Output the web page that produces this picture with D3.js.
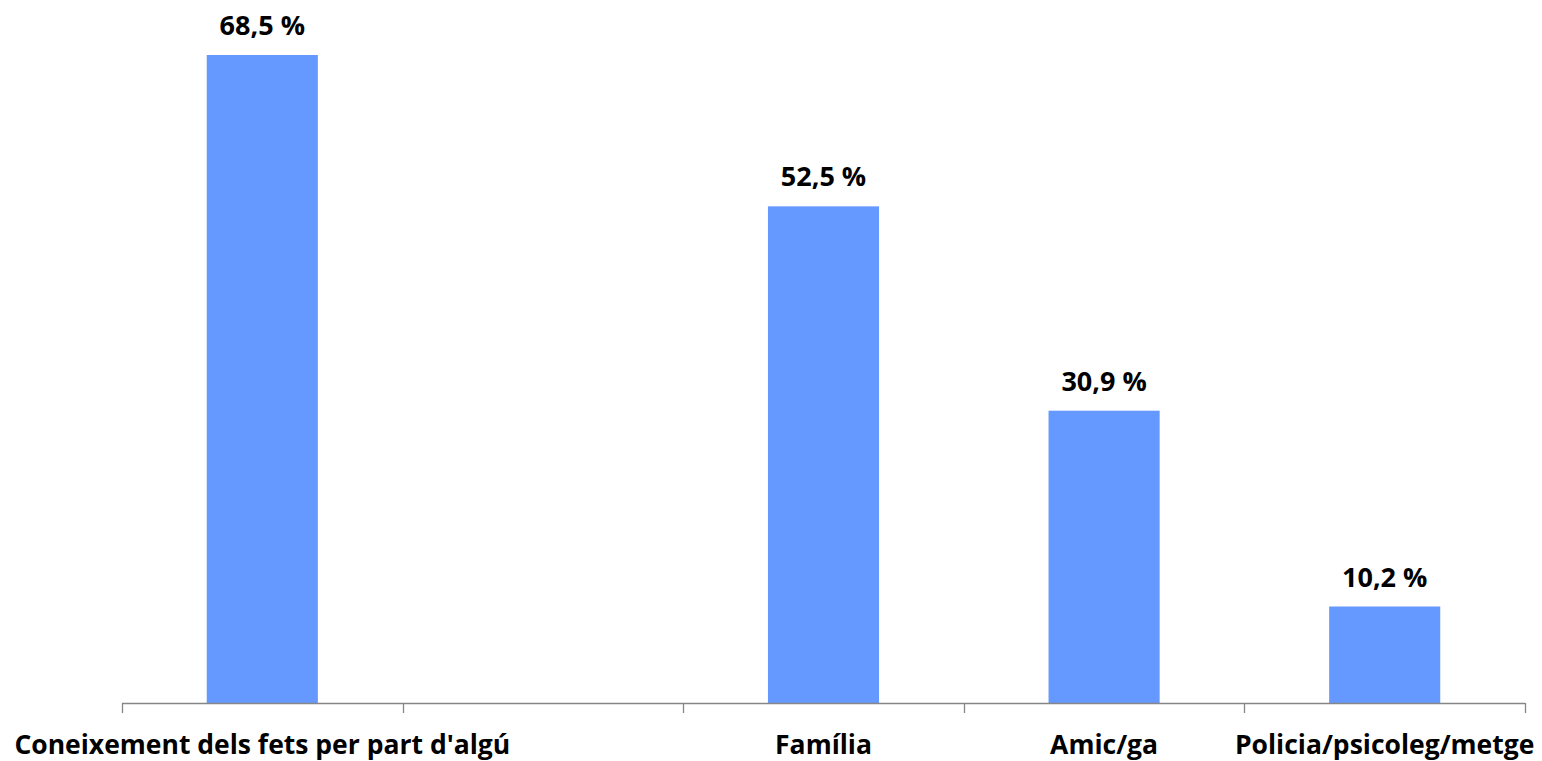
<!DOCTYPE html>
<html><head><meta charset="utf-8">
<script src="https://cdn.jsdelivr.net/npm/d3@7"></script>
<style>body{margin:0;background:#fff;} svg{display:block;} text{font-family:"Open Sans",sans-serif;font-weight:bold;fill:#000;}</style>
</head><body>
<svg id="c" width="1542" height="761"></svg>
<script>
const categories = ["Coneixement dels fets per part d'algú", "", "Família", "Amic/ga", "Policia/psicoleg/metge"];
const values = [68.5, null, 52.5, 30.9, 10.2];
const valueLabels = ["68,5 %", "", "52,5 %", "30,9 %", "10,2 %"];

const svg = d3.select("#c");
const xb = d3.scaleBand().domain(d3.range(categories.length)).range([122, 1525]);
const y = d3.scaleLinear().domain([0, 70]).range([703, 40.8]);
const barW = xb.bandwidth() * 0.396;

const data = categories.map((c, i) => ({c, i, v: values[i], l: valueLabels[i]})).filter(d => d.v != null);

svg.selectAll("rect.bar").data(data).join("rect")
  .attr("x", d => xb(d.i) + xb.bandwidth()/2 - barW/2)
  .attr("width", barW)
  .attr("y", d => y(d.v))
  .attr("height", d => y(0) - y(d.v))
  .attr("fill", "#6699FF");

svg.selectAll("text.val").data(data).join("text")
  .attr("x", d => xb(d.i) + xb.bandwidth()/2)
  .attr("y", d => y(d.v) - 20)
  .attr("text-anchor", "middle")
  .style("font-size", "27px")
  .text(d => d.l);

// axis
const g = svg.append("g");
g.append("line").attr("x1", 122).attr("x2", 1525).attr("y1", 703.5).attr("y2", 703.5).attr("stroke", "#868686").attr("stroke-width", 1.3);
const ticks = d3.range(categories.length + 1).map(i => i < categories.length ? xb(i) : xb.range()[1]);
g.selectAll("line.t").data(ticks).join("line")
  .attr("x1", d => Math.round(d) + 0.5).attr("x2", d => Math.round(d) + 0.5)
  .attr("y1", 703).attr("y2", 713).attr("stroke", "#868686").attr("stroke-width", 1.3);

svg.selectAll("text.cat").data(categories.map((c, i) => ({c, i}))).join("text")
  .attr("x", d => xb(d.i) + xb.bandwidth()/2)
  .attr("y", 754)
  .attr("text-anchor", "middle")
  .style("font-size", "26.5px")
  .text(d => d.c);
</script>
</body></html>
